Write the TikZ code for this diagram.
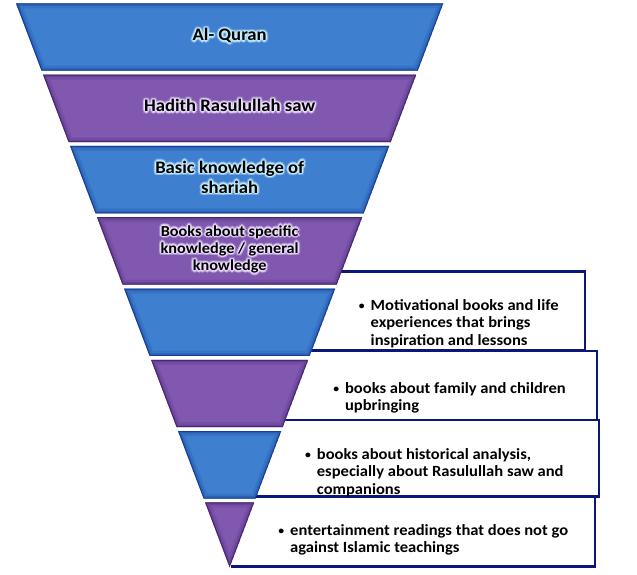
\documentclass[tikz,border=0pt]{standalone}
\usepackage{fontspec}
\setmainfont{Carlito}[FakeStretch=1.06]
\definecolor{bandblue}{RGB}{63,127,208}
\definecolor{bandblueedge}{RGB}{14,52,140}
\definecolor{bandpurple}{RGB}{128,88,176}
\definecolor{bandpurpleedge}{RGB}{62,30,108}
\definecolor{boxnavy}{RGB}{10,22,120}
\definecolor{glowblue}{RGB}{200,240,255}
\definecolor{glowpurple}{RGB}{240,225,255}

\newcommand\drawband[3]{%
  \begin{scope}
    \clip #1;
    \fill[#2] #1;
    \draw[#3, line width=10pt, opacity=0.15] #1;
    \draw[#3, line width=5pt, opacity=0.25] #1;
    \draw[#3, line width=2pt, opacity=0.75] #1;
  \end{scope}}

\newcommand\bandlabel[6]{%
  \foreach \rad/\op in {2.6/0.3,1.4/0.65}{
    \foreach \ang in {0,45,...,315}{
      \node[bandtext, text=#3, text opacity=\op, shift={(\ang:\rad pt)}] (#1-g\ang-\rad) at #2
        {\parbox[t]{230pt}{\centering\fontsize{#4}{#5}\selectfont #6}};
    }
  }
  \node[bandtext] (#1) at #2 {\parbox[t]{230pt}{\centering\fontsize{#4}{#5}\selectfont #6}};
}
\newcommand\smallbullet{\makebox[11.8pt][l]{\fontsize{11}{11}\selectfont\raisebox{0.6pt}{•}}}

\tikzset{
  bandtext/.style={anchor=base, inner sep=0pt, font=\bfseries, text=black},
  boxtext/.style={anchor=base west, inner sep=0pt, font=\bfseries\fontsize{15.6}{17.5}\selectfont, text=black},
  boxline/.style={draw=boxnavy, line width=2.6pt},
}

\begin{document}
\begin{tikzpicture}[x=1pt,y=-1pt]
\useasboundingbox (0,0) rectangle (637,574);

% ---- info boxes (behind the funnel) ----
\fill[white] (240,271.7) rectangle (585,350);
\draw[boxline] (240,271.7) -- (585,271.7) -- (585,350) -- (240,350);
\fill[white] (240,351) rectangle (597,420);
\draw[boxline] (240,351) -- (597,351) -- (597,420) -- (240,420);
\fill[white] (235,420) rectangle (599,496.5);
\draw[boxline] (235,420) -- (599,420) -- (599,496.5) -- (235,496.5);
\fill[white] (231,496.5) rectangle (595,566.7);
\draw[boxline] (231,496.5) -- (595,496.5) -- (595,566.7) -- (231,566.7);

% ---- funnel bands ----
\drawband{(16,3.3)--(443.3,3.3)--(417.76,70.7)--(41.54,70.7)--cycle}{bandblue}{bandblueedge}
\drawband{(43.02,74.6)--(416.28,74.6)--(390.75,142.0)--(68.55,142.0)--cycle}{bandpurple}{bandpurpleedge}
\drawband{(70.03,145.9)--(389.27,145.9)--(363.73,213.3)--(95.57,213.3)--cycle}{bandblue}{bandblueedge}
\drawband{(97.05,217.2)--(362.25,217.2)--(336.72,284.6)--(122.58,284.6)--cycle}{bandpurple}{bandpurpleedge}
\drawband{(124.06,288.5)--(335.24,288.5)--(309.7,355.9)--(149.6,355.9)--cycle}{bandblue}{bandblueedge}
\drawband{(151.08,359.8)--(308.22,359.8)--(282.68,427.2)--(176.62,427.2)--cycle}{bandpurple}{bandpurpleedge}
\drawband{(178.09,431.1)--(281.21,431.1)--(255.67,498.5)--(203.63,498.5)--cycle}{bandblue}{bandblueedge}
\drawband{(205.11,502.4)--(254.19,502.4)--(229.65,567.3)--cycle}{bandpurple}{bandpurpleedge}

% ---- band labels ----
\bandlabel{l1}{(229.65,40.7)}{glowblue}{17.6}{20}{Al- Quran}
\bandlabel{l2}{(229.65,111.7)}{glowpurple}{17.6}{20}{Hadith Rasulullah saw}
\bandlabel{l3}{(229.65,173.3)}{glowblue}{17.6}{20}{Basic knowledge of\\shariah}
\bandlabel{l4}{(229.65,236)}{glowpurple}{15.3}{17.3}{Books about specific\\knowledge / general\\knowledge}

% ---- box texts ----
\node[boxtext] (t1) at (358.7,310) {\parbox[t]{260pt}{\raggedright\hangindent=11.8pt\hangafter=1\smallbullet Motivational books and life\newline experiences that brings\newline inspiration and lessons}};
\node[boxtext] (t2) at (333.1,393) {\parbox[t]{260pt}{\raggedright\hangindent=11.8pt\hangafter=1\smallbullet books about family and children\newline upbringing}};
\node[boxtext] (t3) at (304.9,459.3) {\parbox[t]{280pt}{\raggedright\hangindent=11.8pt\hangafter=1\smallbullet books about historical analysis,\newline especially about Rasulullah saw and\newline companions}};
\node[boxtext] (t4) at (278.2,535) {\parbox[t]{300pt}{\raggedright\hangindent=11.8pt\hangafter=1\smallbullet entertainment readings that does not go\newline against Islamic teachings}};
\end{tikzpicture}
\end{document}
